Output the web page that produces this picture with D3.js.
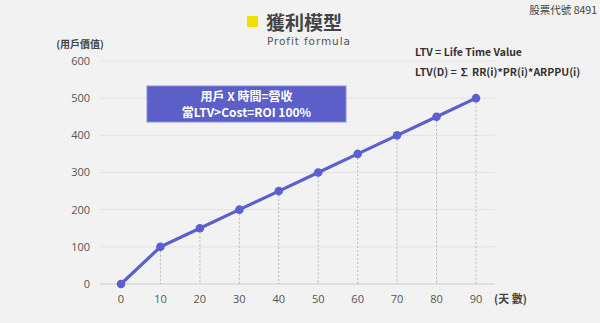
<!DOCTYPE html>
<html><head><meta charset="utf-8">
<script src="https://cdn.jsdelivr.net/npm/d3@7"></script>
<style>
html,body{margin:0;padding:0;background:#f2f2f2;}
svg{display:block;font-family:"Noto Sans CJK TC","Open Sans",sans-serif;}
</style></head>
<body><svg id="c" width="600" height="323"></svg>
<script>
const days = [0,10,20,30,40,50,60,70,80,90];
const values = [0,100,150,200,250,300,350,400,450,500];
const yTicks = [0,100,200,300,400,500,600];
const title = "獲利模型";
const subtitle = "Profit formula";
const stockCode = "股票代號 8491";
const boxLines = ["用戶 X 時間=營收","當LTV>Cost=ROI 100%"];
const noteLines = ["LTV = Life Time Value","LTV(D) = ∑ RR(i)*PR(i)*ARPPU(i)"];

const svg = d3.select("#c");
const x = d3.scaleLinear().domain([0,90]).range([121,476]);
const y = d3.scaleLinear().domain([0,600]).range([284,61]);
const txt = "#555";

// grid
svg.append("g").selectAll("line").data(yTicks).join("line")
  .attr("x1",100).attr("x2",495).attr("y1",d=>y(d)).attr("y2",d=>y(d))
  .attr("stroke",d=>d===0?"#d9d9d9":"#e2e2e2").attr("stroke-width",d=>d===0?1.5:1);

// y labels
svg.append("g").selectAll("text").data(yTicks).join("text")
  .attr("x",90).attr("y",d=>y(d)).attr("dy","0.35em").attr("text-anchor","end")
  .attr("font-size",11).attr("fill",txt).attr("font-family","Open Sans, sans-serif").text(d=>d);
svg.append("text").attr("x",80).attr("y",48).attr("text-anchor","middle")
  .attr("font-size",10).attr("font-weight","bold").attr("fill","#444").text("(用戶價值)");

// x labels
svg.append("g").selectAll("text").data(days).join("text")
  .attr("x",d=>x(d)).attr("y",299).attr("dy","0.35em").attr("text-anchor","middle")
  .attr("font-size",11).attr("fill",txt).attr("font-family","Open Sans, sans-serif").text(d=>d);
svg.append("text").attr("x",494).attr("y",299).attr("dy","0.35em")
  .attr("font-size",11).attr("font-weight","bold").attr("fill","#444").text("(天 數)");

// dashed drop lines
const pts = days.map((d,i)=>({d,v:values[i]}));
svg.append("g").selectAll("line").data(pts.filter(p=>p.v>0)).join("line")
  .attr("x1",p=>x(p.d)).attr("x2",p=>x(p.d)).attr("y1",p=>y(p.v)).attr("y2",y(0))
  .attr("stroke","#aaa").attr("stroke-width",0.8).attr("stroke-dasharray","2,2");

// line
const color = "#5b5fcf";
svg.append("path").datum(pts)
  .attr("d",d3.line().x(p=>x(p.d)).y(p=>y(p.v)))
  .attr("fill","none").attr("stroke",color).attr("stroke-width",3.2);
svg.append("g").selectAll("circle").data(pts).join("circle")
  .attr("cx",p=>x(p.d)).attr("cy",p=>y(p.v)).attr("r",4.3).attr("fill",color);

// title
svg.append("rect").attr("x",247).attr("y",16).attr("width",11).attr("height",11).attr("fill","#f0e000");
svg.append("text").attr("x",266).attr("y",30).attr("font-size",19).attr("font-weight","bold")
  .attr("fill","#444").text(title);
svg.append("text").attr("x",267).attr("y",45).attr("font-size",10.5).attr("letter-spacing",0.9)
  .attr("fill","#555").attr("font-family","DejaVu Sans, sans-serif").text(subtitle);
svg.append("text").attr("x",597).attr("y",14).attr("text-anchor","end").attr("font-size",10.5)
  .attr("fill","#444").text(stockCode);

// box
svg.append("rect").attr("x",147).attr("y",86).attr("width",199).attr("height",36)
  .attr("fill","#5b5fc7").attr("stroke","#8a8ee0").attr("stroke-width",1);
svg.append("g").selectAll("text").data(boxLines).join("text")
  .attr("x",246.5).attr("y",(d,i)=>96.5+i*16).attr("dy","0.35em").attr("text-anchor","middle")
  .attr("font-size",12).attr("font-weight","bold").attr("fill","#fff").text(d=>d);

// notes
svg.append("g").selectAll("text").data(noteLines).join("text")
  .attr("x",415).attr("y",(d,i)=>52+i*20).attr("dy","0.35em")
  .attr("font-size",10.5).attr("font-weight","bold").attr("fill","#333").text(d=>d);
</script></body></html>
